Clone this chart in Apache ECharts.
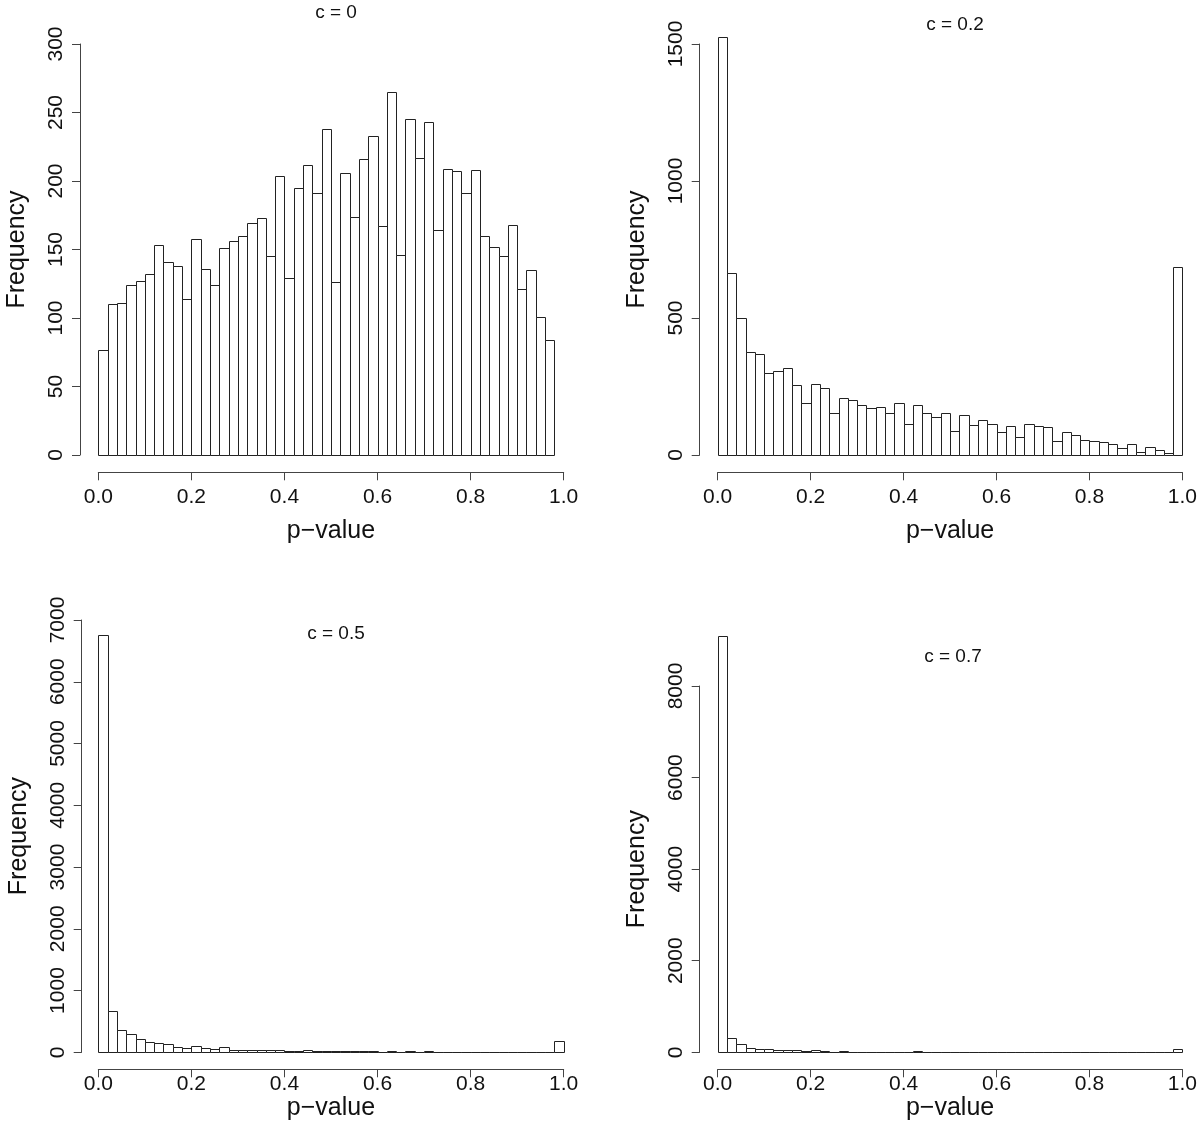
<!DOCTYPE html>
<html><head><meta charset="utf-8">
<script src="https://cdn.jsdelivr.net/npm/echarts@6/dist/echarts.min.js"></script>
<style>html,body{margin:0;padding:0;background:#fff}#c{width:1200px;height:1146px}</style>
</head><body><div id="c"></div>
<script>
// ---- data ----
const BIN_WIDTH = 0.02;
const xTickLabels = ['0.0', '0.2', '0.4', '0.6', '0.8', '1.0'];
const panelTitles = ['c = 0', 'c = 0.2', 'c = 0.5', 'c = 0.7'];
const yMaxTicks = [300, 1500, 7000, 8000];
const yIntervals = [50, 500, 1000, 2000];

const countsC0 = [77, 110, 111, 124, 127, 132, 153, 141, 138, 114,
  158, 136, 124, 151, 156, 160, 169, 173, 145, 204,
  129, 195, 212, 191, 238, 126, 206, 174, 216, 233,
  167, 265, 146, 245, 217, 243, 164, 209, 207, 191,
  208, 160, 152, 145, 168, 121, 135, 101, 84];

const countsC02 = [1525, 663, 499, 375, 367, 300, 307, 318, 255, 189,
  258, 245, 152, 209, 202, 182, 170, 176, 152, 189,
  114, 181, 153, 137, 153, 88, 145, 111, 127, 114,
  83, 107, 66, 114, 107, 101, 51, 85, 73, 55,
  52, 47, 41, 24, 41, 11, 29, 18, 6, 685];

const countsC05 = [6757, 663, 356, 302, 210, 167, 145, 134, 86, 64,
  102, 75, 48, 80, 37, 43, 43, 37, 32, 43,
  21, 26, 32, 26, 26, 27, 22, 22, 16, 16,
  12, 27, 12, 16, 10, 16, 8, 11, 8, 6,
  11, 6, 5, 8, 4, 4, 3, 4, 3, 189];

const countsC07 = [9100, 322, 183, 88, 73, 66, 44, 44, 44, 22,
  44, 22, 15, 22, 10, 10, 10, 15, 8, 8,
  8, 22, 8, 6, 8, 6, 5, 6, 5, 5,
  4, 6, 5, 4, 3, 5, 4, 3, 4, 3,
  5, 3, 4, 3, 2, 3, 3, 4, 3, 66];

const allCounts = [countsC0, countsC02, countsC05, countsC07];

// ---- layout ----
const FONT = "'Liberation Sans', Arial, Helvetica, sans-serif";
const grids = [
  {left: 98.3, top: 44, width: 465.4, height: 411},
  {left: 717.7, top: 44, width: 466, height: 411},
  {left: 98.3, top: 620, width: 465.4, height: 432.3},
  {left: 717.7, top: 686, width: 466, height: 366.3}
];
const yOffsets = [18.3, 18, 16.6, 18];
const xOffsets = [17.3, 17.3, 17, 17];
const xLabelMargins = [14, 14, 4, 4];
const xNameGaps = [46, 46, 23, 23];
const titlePos = [[336, 13], [955, 25], [336, 634], [953, 657]];

const AXIS_COLOR = '#444';

function renderItem(params, api) {
  const p0 = api.coord([api.value(0), api.value(2)]);
  const p1 = api.coord([api.value(1), 0]);
  const x0 = Math.round(p0[0]) + 0.5, x1 = Math.round(p1[0]) + 0.5;
  const y0 = Math.round(p0[1]) + 0.5, y1 = Math.round(p1[1]) + 0.5;
  return {
    type: 'rect',
    shape: {x: x0, y: y0, width: x1 - x0, height: y1 - y0},
    style: {fill: '#fff', stroke: '#222', lineWidth: 1}
  };
}

const xAxes = [], yAxes = [], series = [], graphics = [];
for (let i = 0; i < 4; i++) {
  xAxes.push({
    type: 'value', gridIndex: i, min: 0, max: 1, interval: 0.2,
    position: 'bottom', offset: xOffsets[i],
    axisLine: {show: true, onZero: false, lineStyle: {color: AXIS_COLOR, width: 1}},
    axisTick: {show: true, length: 8, lineStyle: {color: AXIS_COLOR}},
    splitLine: {show: false},
    axisLabel: {
      color: '#111', fontSize: 21, fontFamily: FONT, margin: xLabelMargins[i],
      formatter: v => xTickLabels[Math.round(v / 0.2)]
    },
    name: 'p\u2212value', nameLocation: 'middle', nameGap: xNameGaps[i],
    nameTextStyle: {color: '#111', fontSize: 25, fontFamily: FONT}
  });
  yAxes.push({
    type: 'value', gridIndex: i, min: 0, max: yMaxTicks[i], interval: yIntervals[i],
    position: 'left', offset: yOffsets[i],
    axisLine: {show: true, onZero: false, lineStyle: {color: AXIS_COLOR, width: 1}},
    axisTick: {show: true, length: 8, lineStyle: {color: AXIS_COLOR}},
    splitLine: {show: false},
    axisLabel: {color: '#111', fontSize: 21, fontFamily: FONT, rotate: 90, margin: 13,
      formatter: v => String(v)},
    name: 'Frequency', nameLocation: 'middle', nameGap: 50,
    nameTextStyle: {color: '#111', fontSize: 25, fontFamily: FONT}
  });
  series.push({
    type: 'custom', xAxisIndex: i, yAxisIndex: i, clip: false,
    renderItem: renderItem, silent: true,
    data: allCounts[i].map((v, k) => [k * BIN_WIDTH, (k + 1) * BIN_WIDTH, v])
  });
  graphics.push({
    type: 'text', x: titlePos[i][0], y: titlePos[i][1],
    style: {text: panelTitles[i], fill: '#111', font: '19px ' + FONT,
            textAlign: 'center', textVerticalAlign: 'middle'}
  });
}

const chart = echarts.init(document.getElementById('c'), null, {renderer: 'canvas'});
chart.setOption({
  animation: false,
  backgroundColor: '#fff',
  grid: grids,
  xAxis: xAxes,
  yAxis: yAxes,
  series: series,
  graphic: graphics
});
</script>
</body></html>
